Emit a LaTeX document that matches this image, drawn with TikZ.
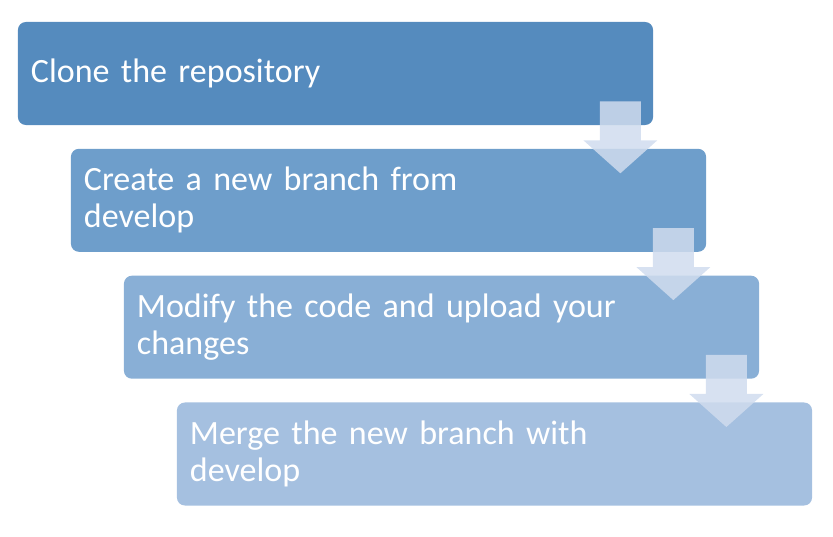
\documentclass[tikz,border=0pt]{standalone}
\usepackage{fontspec}
\setmainfont{Carlito}
\usetikzlibrary{calc,positioning}
\definecolor{stepA}{RGB}{85,139,190}
\definecolor{stepB}{RGB}{110,158,203}
\definecolor{stepC}{RGB}{137,175,214}
\definecolor{stepD}{RGB}{165,192,224}
\definecolor{arrowfill}{RGB}{208,220,238}
\newcommand{\stepfont}{\fontsize{24.2}{26.2}\selectfont}
\begin{document}
\begin{tikzpicture}[x=0.025cm, y=-0.025cm]
  \tikzstyle{stepbox} = [rectangle, rounded corners = 0.2cm, minimum width = 15.875cm, minimum height = 2.575cm,
    text width = 15.225cm, inner xsep = 0.325cm, inner ysep = 0pt, align = left, text = white,
    font = \stepfont]
  \tikzstyle{downarrow} = [fill = arrowfill, fill opacity = 0.85]

  \useasboundingbox (0,0) rectangle (833,537);

  \node[stepbox, fill = stepA] (step1) at (335.5, 73.5) {Clone the repository};
  \node[stepbox, fill = stepB] (step2) at (388.5, 200.3) {Create a new branch from\\develop};
  \node[stepbox, fill = stepC] (step3) at (441.5, 327.2) {Modify the code and upload your\\changes};
  \node[stepbox, fill = stepD] (step4) at (494.5, 454) {Merge the new branch with\\develop};

  % block arrows between the steps
  \foreach \i in {1,2,3}{
    \coordinate (top\i) at ($(step\i.south east)+(-33,-24)$);
    \fill[downarrow] (top\i) ++(-20.5,0) -- ++(41,0) -- ++(0,39) -- ++(16.5,0)
      -- ++(-37,33) -- ++(-37,-33) -- ++(16.5,0) -- cycle;
  }
\end{tikzpicture}
\end{document}
